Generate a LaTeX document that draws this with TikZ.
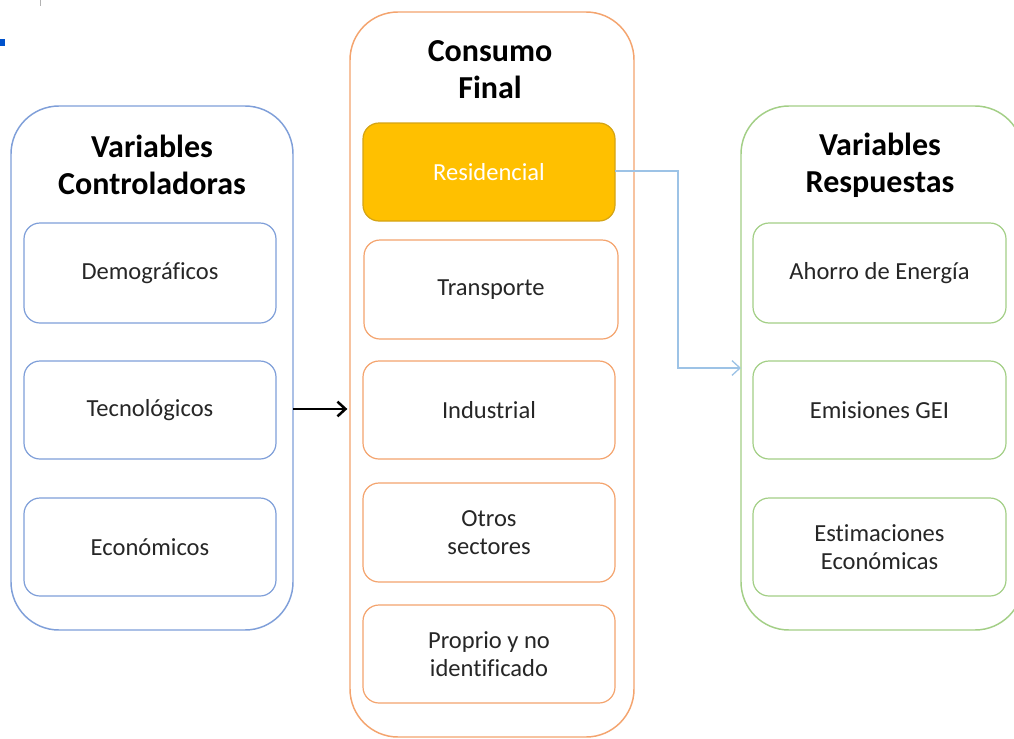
\documentclass[tikz,border=0pt]{standalone}
\usepackage{fontspec}
\setmainfont{Carlito}[Ligatures=NoCommon]
\usetikzlibrary{arrows.meta}
\definecolor{cblue}{HTML}{7F9FD9}
\definecolor{corange}{HTML}{F4A46E}
\definecolor{cgreen}{HTML}{A3CF86}
\definecolor{cgold}{HTML}{FFC000}
\definecolor{cgoldline}{HTML}{D4A414}
\definecolor{carrow}{HTML}{9DC3E6}
\definecolor{ctext}{HTML}{262626}
\tikzset{
  sz/.style 2 args={minimum width=#1*0.75pt, minimum height=#2*0.75pt, inner sep=0pt, outer sep=0pt},
  outerbox/.style={draw, line width=1.1pt, rounded corners=36pt},
  innerbox/.style={draw, line width=0.9pt, rounded corners=12pt, align=center,
    font=\fontsize{18.4}{21}\selectfont, text=ctext},
  title/.style={align=center, font=\fontsize{24}{27.75}\selectfont\bfseries, text=black},
}
\begin{document}
\begin{tikzpicture}[x=0.75pt, y=-0.75pt]
\useasboundingbox (0,0) rectangle (1014,739);
\clip (0,0) rectangle (1014,739);
\fill[white] (0,0) rectangle (1014,739);
% small artifacts at top-left
\draw[gray!60, line width=0.6pt] (40,0) -- (40,6);
\fill[blue!60!cyan!80!black] (0,39) rectangle (5,46);
% outer boxes
\node[outerbox, draw=cblue, sz={282}{524}] (lo) at (152,368) {};
\node[outerbox, draw=corange, sz={284}{725}] (co) at (492,374.5) {};
\node[outerbox, draw=cgreen, sz={282}{524}] (ro) at (882,368) {};
% titles
\node[title] (lt) at (152,165) {Variables\\Controladoras};
\node[title] (ct) at (490,70) {Consumo\\Final};
\node[title] (rt) at (880,165) {Variables\\Respuestas};
% left inner
\node[innerbox, draw=cblue, sz={252}{100}] (dem) at (150,273) {Demográficos};
\node[innerbox, draw=cblue, sz={252}{98}] (tec) at (150,410) {Tecnológicos};
\node[innerbox, draw=cblue, sz={252}{98}] (eco) at (150,547) {Económicos};
% center inner
\node[innerbox, draw=cgoldline, fill=cgold, text=white, sz={252}{98}] (res) at (489,172) {Residencial};
\node[innerbox, draw=corange, sz={254}{99}] (tra) at (491,289.5) {Transporte};
\node[innerbox, draw=corange, sz={252}{98}] (ind) at (489,410) {Industrial};
\node[innerbox, draw=corange, sz={252}{99}] (otr) at (489,532.5) {Otros\\sectores};
\node[innerbox, draw=corange, sz={252}{98}] (pro) at (489,654) {Proprio y no\\identificado};
% right inner
\node[innerbox, draw=cgreen, sz={253}{100}] (aho) at (879.5,273) {Ahorro de Energía};
\node[innerbox, draw=cgreen, sz={253}{98}] (emi) at (879.5,410) {Emisiones GEI};
\node[innerbox, draw=cgreen, sz={253}{98}] (est) at (879.5,547) {Estimaciones\\Económicas};
% connectors
\coordinate (a1) at (678,171);
\coordinate (a2) at (678,368);
\coordinate (b1) at (293,409);
\draw[line width=1.9pt, -{Straight Barb[length=6pt, width=11pt, line width=1.9pt]}, shorten >=2pt] (b1) -- (co.west |- b1);
\draw[carrow, line width=1pt, -{Straight Barb[length=6pt, width=11pt, line width=1pt]}] (res.east |- a1) -- (a1) -- (a2) -- (ro.west |- a2);
\end{tikzpicture}
\end{document}
